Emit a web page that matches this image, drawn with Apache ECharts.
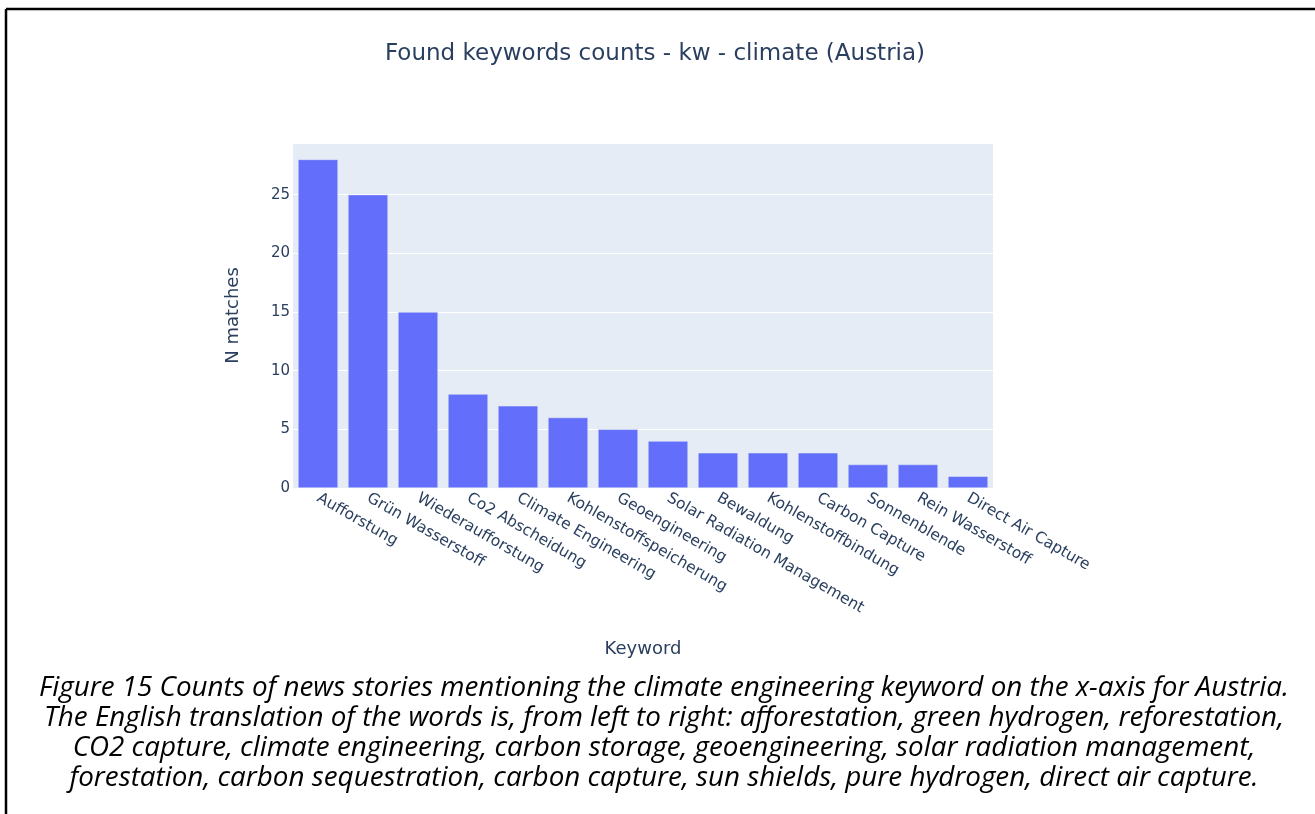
<!DOCTYPE html>
<html>
<head>
<meta charset="utf-8">
<script src="https://cdn.jsdelivr.net/npm/echarts@6/dist/echarts.min.js"></script>
<style>
  html, body { margin: 0; padding: 0; background: #fff; }
  #grafik { width: 1315px; height: 814px; }
</style>
</head>
<body>
<div id="grafik"></div>
<script>
var keywords = ['Aufforstung', 'Grün Wasserstoff', 'Wiederaufforstung', 'Co2 Abscheidung',
  'Climate Engineering', 'Kohlenstoffspeicherung', 'Geoengineering', 'Solar Radiation Management',
  'Bewaldung', 'Kohlenstoffbindung', 'Carbon Capture', 'Sonnenblende', 'Rein Wasserstoff',
  'Direct Air Capture'];
var matches = [28, 25, 15, 8, 7, 6, 5, 4, 3, 3, 3, 2, 2, 1];
var captionLines = [
  'Figure 15 Counts of news stories mentioning the climate engineering keyword on the x-axis for Austria.',
  'The English translation of the words is, from left to right: afforestation, green hydrogen, reforestation,',
  'CO2 capture, climate engineering, carbon storage, geoengineering, solar radiation management,',
  'forestation, carbon sequestration, carbon capture, sun shields, pure hydrogen, direct air capture.'
];

var grafik = echarts.init(document.getElementById('grafik'));

var txt = '#2a3f5f';
var fam = '"DejaVu Sans", Verdana, sans-serif';

var captionGraphics = captionLines.map(function (line, i) {
  return {
    type: 'text',
    x: 664,
    y: 688 + i * 30,
    style: {
      text: line,
      font: 'italic 27.8px "Open Sans", sans-serif',
      fill: '#000',
      textAlign: 'center',
      textVerticalAlign: 'middle'
    }
  };
});

var option = {
  backgroundColor: '#fff',
  title: {
    text: 'Found keywords counts - kw - climate (Austria)',
    left: 650,
    textAlign: 'center',
    top: 38,
    textStyle: { fontFamily: fam, fontSize: 23, fontWeight: 'normal', color: txt }
  },
  grid: {
    left: 293, right: 322, top: 143, bottom: 326,
    show: true, backgroundColor: '#e5ecf6', borderWidth: 0
  },
  xAxis: {
    type: 'category',
    data: keywords,
    name: 'Keyword',
    nameLocation: 'middle',
    nameGap: 152,
    nameTextStyle: { fontFamily: fam, fontSize: 18, color: txt },
    axisLine: { show: false },
    axisTick: { show: false },
    axisLabel: {
      rotate: -30, interval: 0, margin: 9,
      fontFamily: fam, fontSize: 15.5, color: txt
    }
  },
  yAxis: {
    type: 'value',
    min: 0, max: 29.4, interval: 5,
    name: 'N matches',
    nameLocation: 'middle',
    nameGap: 51,
    nameTextStyle: { fontFamily: fam, fontSize: 18, color: txt },
    axisLine: { show: false },
    axisTick: { show: false },
    splitLine: { lineStyle: { color: '#fff', width: 1 } },
    axisLabel: {
      showMaxLabel: false, margin: 3,
      fontFamily: fam, fontSize: 15, color: txt
    }
  },
  series: [{
    type: 'bar',
    data: matches,
    barCategoryGap: '20%',
    itemStyle: { color: '#636efa', borderColor: '#e5ecf6', borderWidth: 0.5 }
  }],
  graphic: [
    { type: 'line', shape: { x1: 6, y1: 9, x2: 1315, y2: 9 }, style: { stroke: '#000', lineWidth: 2.5 } },
    { type: 'line', shape: { x1: 6, y1: 9, x2: 6, y2: 814 }, style: { stroke: '#000', lineWidth: 2.5 } }
  ].concat(captionGraphics)
};
grafik.setOption(option);
</script>
</body>
</html>
